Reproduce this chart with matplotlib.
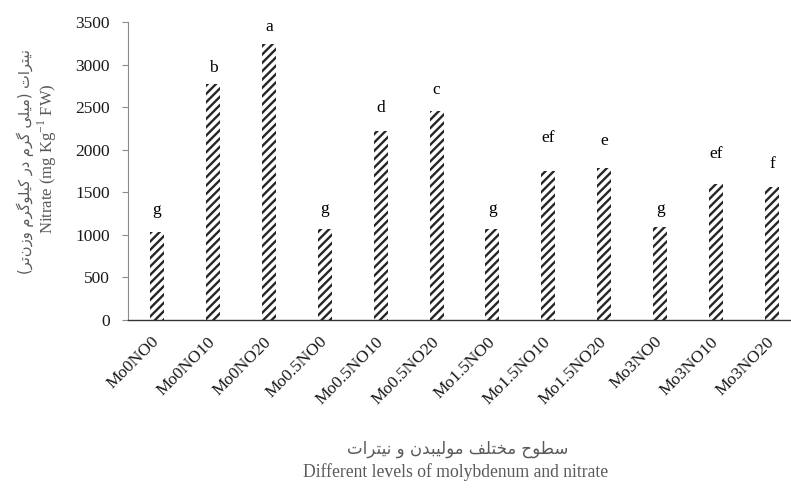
import matplotlib
matplotlib.use('Agg')
import matplotlib.pyplot as plt

treatments = ['Mo0NO0', 'Mo0NO10', 'Mo0NO20', 'Mo0.5NO0', 'Mo0.5NO10', 'Mo0.5NO20',
              'Mo1.5NO0', 'Mo1.5NO10', 'Mo1.5NO20', 'Mo3NO0', 'Mo3NO10', 'Mo3NO20']
nitrate = [1035, 2770, 3245, 1065, 2215, 2455, 1065, 1755, 1785, 1090, 1595, 1565]
letters = ['g', 'b', 'a', 'g', 'd', 'c', 'g', 'ef', 'e', 'g', 'ef', 'f']
letter_y = [1245, 2910, 3395, 1255, 2440, 2655, 1255, 2090, 2055, 1255, 1900, 1785]

ylabel_fa = 'نیترات (میلی گرم در کیلوگرم وزن\u200cتر)'
ylabel_en = 'Nitrate (mg Kg$^{-1}$ FW)'
xlabel_fa = 'سطوح مختلف مولیبدن و نیترات'
xlabel_en = 'Different levels of molybdenum and nitrate'

# isolated, final, initial, medial (None = letter does not join forward)
FORMS = {
    '\u0627': ('\uFE8D', '\uFE8E', None, None),
    '\u0628': ('\uFE8F', '\uFE90', '\uFE91', '\uFE92'),
    '\u062A': ('\uFE95', '\uFE96', '\uFE97', '\uFE98'),
    '\u062D': ('\uFEA1', '\uFEA2', '\uFEA3', '\uFEA4'),
    '\u062E': ('\uFEA5', '\uFEA6', '\uFEA7', '\uFEA8'),
    '\u062F': ('\uFEA9', '\uFEAA', None, None),
    '\u0631': ('\uFEAD', '\uFEAE', None, None),
    '\u0632': ('\uFEAF', '\uFEB0', None, None),
    '\u0633': ('\uFEB1', '\uFEB2', '\uFEB3', '\uFEB4'),
    '\u0637': ('\uFEC1', '\uFEC2', '\uFEC3', '\uFEC4'),
    '\u0641': ('\uFED1', '\uFED2', '\uFED3', '\uFED4'),
    '\u0644': ('\uFEDD', '\uFEDE', '\uFEDF', '\uFEE0'),
    '\u0645': ('\uFEE1', '\uFEE2', '\uFEE3', '\uFEE4'),
    '\u0646': ('\uFEE5', '\uFEE6', '\uFEE7', '\uFEE8'),
    '\u0648': ('\uFEED', '\uFEEE', None, None),
    '\u06CC': ('\uFEEF', '\uFEF0', '\uFEF3', '\uFEF4'),
    '\u06A9': ('\uFED9', '\uFEDA', '\uFEDB', '\uFEDC'),
    '\u06AF': ('\uFB92', '\uFB93', '\uFB94', '\uFB95'),
}


def shape(text):
    # matplotlib has no arabic shaping, so pick the glyph forms by hand
    def dual(c):
        return c in FORMS and FORMS[c][2] is not None
    out = []
    for i, c in enumerate(text):
        if c == '\u200c':
            continue
        if c not in FORMS:
            out.append(c)
            continue
        prev = text[i - 1] if i > 0 else ''
        nxt = text[i + 1] if i + 1 < len(text) else ''
        jp = dual(prev)
        jn = dual(c) and nxt in FORMS
        iso, fin, ini, med = FORMS[c]
        if jp and jn:
            out.append(med)
        elif jp:
            out.append(fin)
        elif jn:
            out.append(ini)
        else:
            out.append(iso)
    s = ''.join(reversed(out))
    return s.translate(str.maketrans('()', ')('))


plt.rcParams['font.family'] = 'Liberation Serif'
plt.rcParams['mathtext.fontset'] = 'custom'
plt.rcParams['mathtext.rm'] = 'Liberation Serif'
plt.rcParams['hatch.linewidth'] = 1.7

fig = plt.figure(figsize=(7.91, 4.88), dpi=100)
ax = fig.add_axes([128 / 791, 168 / 488, 663 / 791, 298 / 488])

x = list(range(len(treatments)))
ax.bar(x, nitrate, width=0.25, color='white', edgecolor='#262626',
       hatch='////', linewidth=0)

for xi, t, ty in zip(x, letters, letter_y):
    ax.text(xi, ty, t, ha='center', va='baseline', fontsize=12.5, color='black')

ax.set_xlim(-0.52, 11.34)
ax.set_ylim(0, 3500)
ax.set_yticks(range(0, 3501, 500))
ax.set_xticks(x)
ax.set_xticklabels(treatments, rotation=45, ha='right', va='center',
                   rotation_mode='anchor')
ax.tick_params(axis='x', length=0, pad=14, labelsize=12.5, labelcolor='#1a1a1a')
ax.tick_params(axis='y', length=4, width=0.8, color='#8c8c8c', pad=9,
               labelsize=12.5, labelcolor='#1a1a1a')

ax.spines['top'].set_visible(False)
ax.spines['right'].set_visible(False)
ax.spines['left'].set_color('#8c8c8c')
ax.spines['left'].set_linewidth(0.8)
ax.spines['bottom'].set_color('#333333')
ax.spines['bottom'].set_linewidth(1.0)

grey = '#595959'
fig.text(25 / 791, 1 - 161 / 488, shape(ylabel_fa), rotation=90, ha='center',
         va='center', fontsize=10.5, color=grey, family=['DejaVu Sans'])
fig.text(47 / 791, 1 - 159 / 488, ylabel_en, rotation=90, ha='center',
         va='center', fontsize=12, color=grey)
fig.text(458 / 791, 1 - 449 / 488, shape(xlabel_fa), ha='center', va='center',
         fontsize=12, color=grey, family=['DejaVu Sans'])
fig.text(456 / 791, 1 - 472 / 488, xlabel_en, ha='center', va='center',
         fontsize=12.7, color=grey)

fig.savefig('out.png', dpi=100)
